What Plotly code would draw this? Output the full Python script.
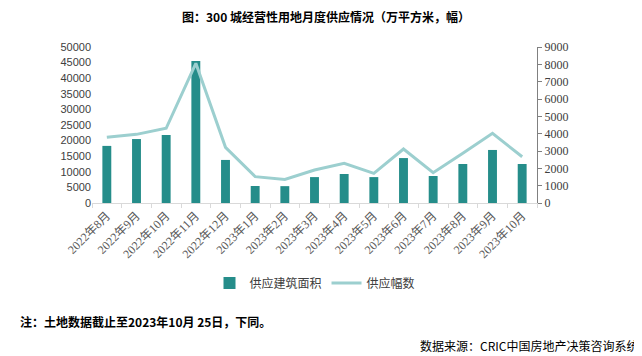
import plotly.graph_objects as go

categories = ["2022年8月", "2022年9月", "2022年10月", "2022年11月", "2022年12月",
              "2023年1月", "2023年2月", "2023年3月", "2023年4月", "2023年5月",
              "2023年6月", "2023年7月", "2023年8月", "2023年9月", "2023年10月"]
area = [18300, 20500, 21800, 45500, 13800, 5450, 5400, 8300, 9300, 8300,
        14400, 8650, 12500, 17000, 12500]
parcels = [3790, 3960, 4310, 8060, 3210, 1520, 1360, 1900, 2290, 1710,
           3115, 1750, 2870, 4020, 2670]
left_ticks = list(range(0, 50001, 5000))
right_ticks = list(range(0, 9001, 1000))

serif = "Liberation Serif, Noto Sans CJK SC"
sans = "Liberation Sans, Noto Sans CJK SC"

W, H = 634, 348
L, R, T, B = 84, 105, 39, 153
PW, PH = W - L - R, H - T - B

fig = go.Figure()
fig.add_trace(go.Bar(x=categories, y=area, name="供应建筑面积",
                     marker=dict(color="#258D8A", line=dict(width=0)),
                     width=0.3, yaxis="y"))
fig.add_trace(go.Scatter(x=categories, y=parcels, name="供应幅数", mode="lines",
                         line=dict(color="#9CCFCF", width=3), yaxis="y2"))

fig.update_layout(
    width=W, height=H,
    paper_bgcolor="white", plot_bgcolor="white",
    margin=dict(l=L, r=R, t=T, b=B, autoexpand=False),
    title=dict(text="<b>图：300 城经营性用地月度供应情况（万平方米，幅）</b>",
               x=318 / W, xanchor="center", y=1 - 10 / H, yanchor="middle",
               font=dict(family="Noto Sans CJK SC", size=12, color="#000000")),
    xaxis=dict(type="category", tickangle=-45, showgrid=False, automargin=False,
               showline=True, linecolor="#D9D9D9", linewidth=1,
               ticks="outside", tickson="boundaries", ticklen=4, tickcolor="#D9D9D9",
               tickfont=dict(family=serif, size=12, color="#595959")),
    yaxis=dict(range=[0, 50000], tickvals=left_ticks, tickformat="d", showgrid=False,
               zeroline=False, automargin=False,
               showline=False, ticks="", tickfont=dict(family=sans, size=11, color="#404040")),
    yaxis2=dict(range=[0, 9000], tickvals=right_ticks, tickformat="d", overlaying="y",
                side="right", automargin=False,
                showgrid=False, zeroline=False, showline=True, linecolor="#808080",
                ticks="outside", ticklen=4, tickcolor="#808080",
                tickfont=dict(family=serif, size=12, color="#404040")),
    legend=dict(orientation="h", x=(315 - 8 - L) / PW, xanchor="center",
                y=-(283 - 203) / PH, yanchor="middle",
                font=dict(family="Noto Sans CJK SC", size=12, color="#404040"),
                itemwidth=30),
    showlegend=True,
    bargap=0.7,
)

fig.add_annotation(text="<b>注：土地数据截止至2023年10月 25日，下同。</b>",
                   xref="paper", yref="paper", x=(10 - L) / PW, y=-(321 - 203) / PH,
                   xanchor="left", yanchor="middle", showarrow=False,
                   font=dict(family="Noto Sans CJK SC", size=12, color="#000000"))
fig.add_annotation(text="数据来源：CRIC中国房地产决策咨询系统",
                   xref="paper", yref="paper", x=(632 - L) / PW, y=-(345 - 203) / PH,
                   xanchor="right", yanchor="middle", showarrow=False,
                   font=dict(family="Noto Sans CJK SC", size=12, color="#000000"))

fig.write_html("out.html")
